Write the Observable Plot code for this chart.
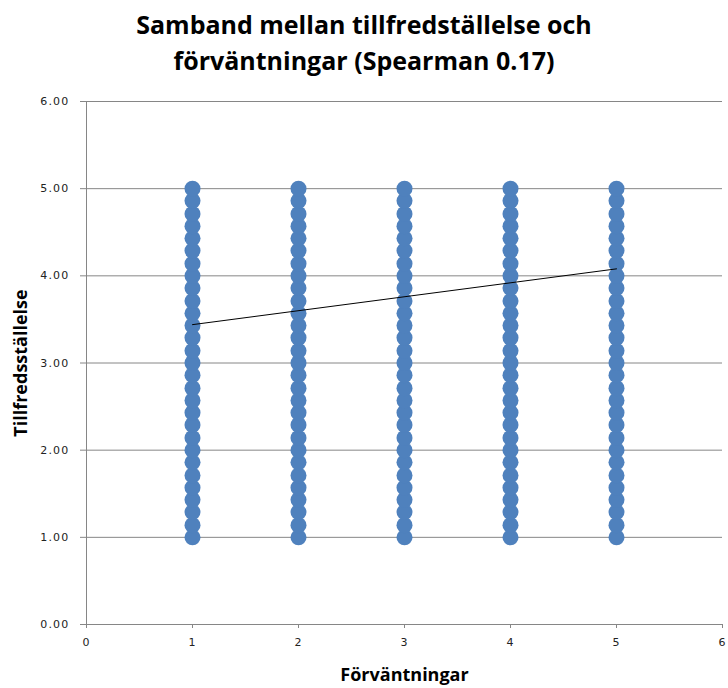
<!DOCTYPE html>
<html>
<head>
<meta charset="utf-8">
<script src="https://cdn.jsdelivr.net/npm/d3@7"></script>
<script src="https://cdn.jsdelivr.net/npm/@observablehq/plot@0.6"></script>
<style>
  html, body { margin: 0; padding: 0; background: #fff; }
  #wrap { width: 728px; position: relative; }
  #title { font-family: "Open Sans", sans-serif; font-weight: bold; font-size: 25px; line-height: 36px;
           text-align: center; color: #000; height: 88px; box-sizing: border-box; padding-top: 6px; padding-left: 0px; }
  svg { display: block; }
</style>
</head>
<body>
<div id="wrap">
  <div id="title">Samband mellan tillfredställelse och<br>förväntningar (Spearman 0.17)</div>
  <div id="chart"></div>
</div>
<script>
const expectations = [1, 2, 3, 4, 5];
const satisfactionLevels = [1.00, 1.14, 1.29, 1.43, 1.57, 1.71, 1.86, 2.00, 2.14, 2.29, 2.43, 2.57, 2.71, 2.86,
  3.00, 3.14, 3.29, 3.43, 3.57, 3.71, 3.86, 4.00, 4.14, 4.29, 4.43, 4.57, 4.71, 4.86, 5.00];
const trendX = [1, 5];
const trendY = [3.44, 4.08];
const xTicks = [0, 1, 2, 3, 4, 5, 6];
const yTicks = [0, 1, 2, 3, 4, 5, 6];

const points = expectations.flatMap(x => satisfactionLevels.map(y => ({x, y})));
const trend = trendX.map((x, i) => ({x, y: trendY[i]}));

const chart = Plot.plot({
  width: 728,
  height: 600,
  marginLeft: 86,
  marginRight: 6,
  marginTop: 13,
  marginBottom: 64,
  style: { fontFamily: "DejaVu Sans, sans-serif", fontSize: "11px", color: "#222", background: "#fff" },
  x: { domain: [0, 6] },
  y: { domain: [0, 6] },
  marks: [
    Plot.gridY(yTicks.slice(1), { stroke: "#868686", strokeOpacity: 1, strokeWidth: 1 }),
    Plot.ruleX([0], { stroke: "#868686" }),
    Plot.ruleY([0], { stroke: "#868686" }),
    Plot.axisY({ ticks: yTicks, tickSize: 6, tickPadding: 11, tickFormat: d => d.toFixed(2), stroke: "#868686",
      label: "Tillfredsställelse", labelAnchor: "center", labelOffset: 72, labelArrow: "none" }),
    Plot.axisX({ ticks: xTicks, tickSize: 4, tickPadding: 10, tickFormat: d => String(d), stroke: "#868686",
      label: "Förväntningar", labelAnchor: "center", labelOffset: 56, labelArrow: "none" }),
    Plot.dot(points, { x: "x", y: "y", symbol: "circle", r: 8, fill: "#4F81BD", stroke: "none" }),
    Plot.line(trend, { x: "x", y: "y", stroke: "#000", strokeWidth: 1 })
  ]
});
d3.select(chart).selectAll("g[aria-label='y-axis tick label'] text, g[aria-label='x-axis tick label'] text")
  .style("letter-spacing", "1.2px");
d3.select(chart).selectAll("g[aria-label='y-axis label'] text, g[aria-label='x-axis label'] text")
  .style("font-family", "'Open Sans', sans-serif").style("font-weight", "bold").style("font-size", "18px").style("fill", "#000").style("letter-spacing", "0");
document.getElementById("chart").appendChild(chart);
</script>
</body>
</html>
